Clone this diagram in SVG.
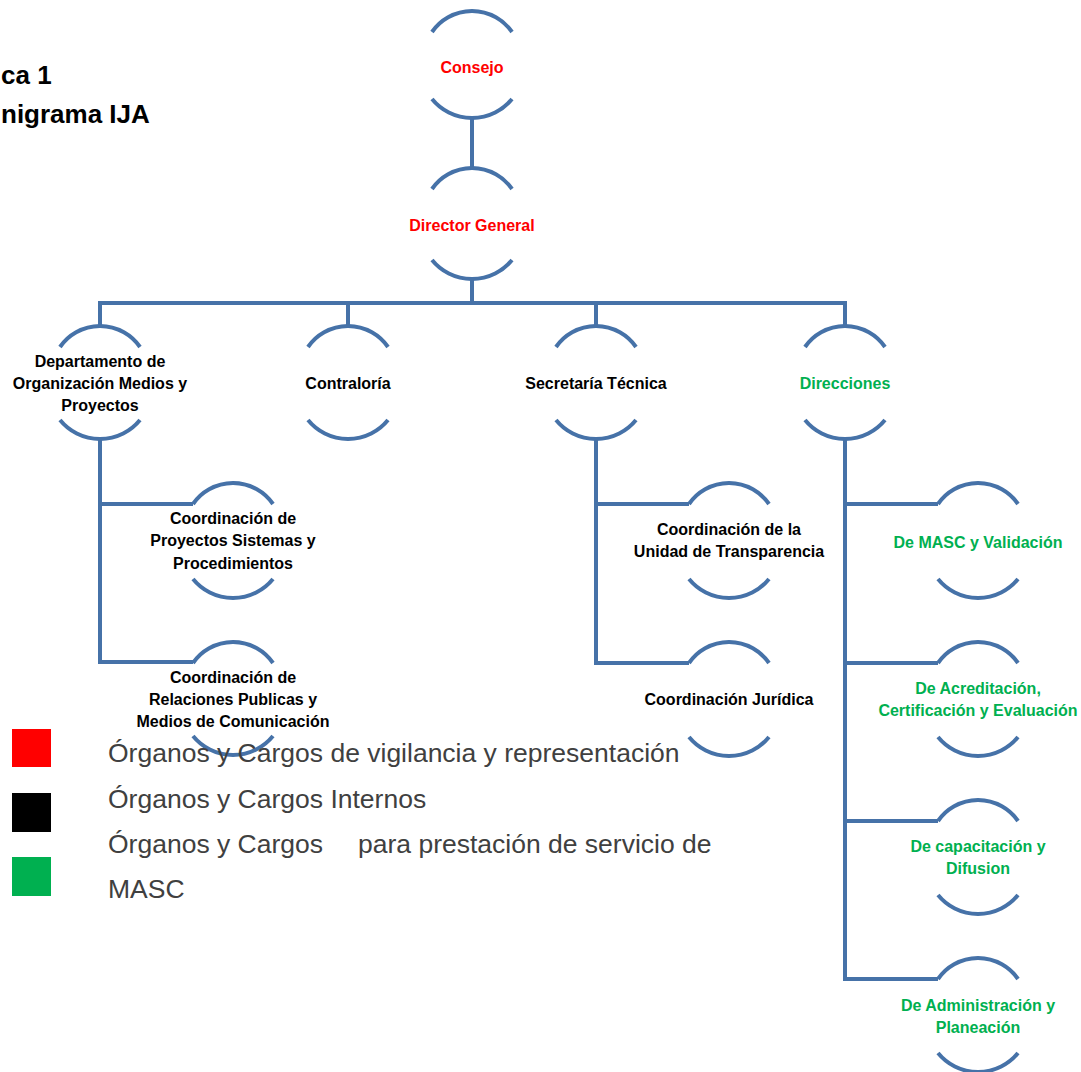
<svg xmlns="http://www.w3.org/2000/svg" width="1081" height="1072" viewBox="0 0 1081 1072">
<style>
  .arc{fill:none;stroke:#4672a8;stroke-width:4}
  .con{fill:none;stroke:#4672a8;stroke-width:4;stroke-linejoin:miter}
  .t{font-family:"Liberation Sans",Arial,sans-serif;font-weight:bold;font-size:16px;text-anchor:middle}
  .red{fill:#ff0000}
  .blk{fill:#000000}
  .grn{fill:#00b050}
  .title{font-family:"Liberation Sans",Arial,sans-serif;font-weight:bold;font-size:26px;fill:#000}
  .leg{font-family:"Liberation Sans",Arial,sans-serif;font-size:26.5px;fill:#404040}
</style>
<defs>
  <path id="cap" d="M-40,21 A48.6,48.6 0 0 1 40,21"/>
  <path id="cup" d="M-40,-19 A51.6,51.6 0 0 0 40,-19"/>
</defs>
<rect width="1081" height="1072" fill="#ffffff"/>

<g id="title">
  <text class="title" x="1" y="84">ca 1</text>
  <text class="title" x="1" y="123">nigrama IJA</text>
</g>

<g id="connectors">
  <path class="con" d="M472,118 V168"/>
  <path class="con" d="M472,279 V303"/>
  <path class="con" d="M100,326 V303 H845 V326"/>
  <path class="con" d="M348,303 V326"/>
  <path class="con" d="M596,303 V326"/>
  <path class="con" d="M100,439 V662 H193"/>
  <path class="con" d="M100,504 H193"/>
  <path class="con" d="M596,439 V663 H689"/>
  <path class="con" d="M596,504 H689"/>
  <path class="con" d="M845,439 V979 H938"/>
  <path class="con" d="M845,504 H938"/>
  <path class="con" d="M845,663 H938"/>
  <path class="con" d="M845,821 H938"/>
</g>

<g id="consejo">
  <use href="#cap" class="arc" x="472" y="11"/>
  <use href="#cup" class="arc" x="472" y="118"/>
  <text class="t red" x="472" y="73">Consejo</text>
</g>
<g id="director-general">
  <use href="#cap" class="arc" x="472" y="168"/>
  <use href="#cup" class="arc" x="472" y="279"/>
  <text class="t red" x="472" y="231">Director General</text>
</g>
<g id="departamento">
  <use href="#cap" class="arc" x="100" y="326"/>
  <use href="#cup" class="arc" x="100" y="439"/>
  <text class="t blk" x="100" y="367">Departamento de</text>
  <text class="t blk" x="100" y="389">Organización Medios y</text>
  <text class="t blk" x="100" y="411">Proyectos</text>
</g>
<g id="contraloria">
  <use href="#cap" class="arc" x="348" y="326"/>
  <use href="#cup" class="arc" x="348" y="439"/>
  <text class="t blk" x="348" y="389">Contraloría</text>
</g>
<g id="secretaria">
  <use href="#cap" class="arc" x="596" y="326"/>
  <use href="#cup" class="arc" x="596" y="439"/>
  <text class="t blk" x="596" y="389">Secretaría Técnica</text>
</g>
<g id="direcciones">
  <use href="#cap" class="arc" x="845" y="326"/>
  <use href="#cup" class="arc" x="845" y="439"/>
  <text class="t grn" x="845" y="389">Direcciones</text>
</g>
<g id="coord-proyectos">
  <use href="#cap" class="arc" x="233" y="483"/>
  <use href="#cup" class="arc" x="233" y="598"/>
  <text class="t blk" x="233" y="524">Coordinación de</text>
  <text class="t blk" x="233" y="546">Proyectos Sistemas y</text>
  <text class="t blk" x="233" y="569">Procedimientos</text>
</g>
<g id="coord-relaciones">
  <use href="#cap" class="arc" x="233" y="642"/>
  <use href="#cup" class="arc" x="233" y="755"/>
  <text class="t blk" x="233" y="683">Coordinación de</text>
  <text class="t blk" x="233" y="705">Relaciones Publicas y</text>
  <text class="t blk" x="233" y="727">Medios de Comunicación</text>
</g>
<g id="coord-transparencia">
  <use href="#cap" class="arc" x="729" y="483"/>
  <use href="#cup" class="arc" x="729" y="598"/>
  <text class="t blk" x="729" y="535">Coordinación de la</text>
  <text class="t blk" x="729" y="557">Unidad de Transparencia</text>
</g>
<g id="coord-juridica">
  <use href="#cap" class="arc" x="729" y="642"/>
  <use href="#cup" class="arc" x="729" y="756"/>
  <text class="t blk" x="729" y="705">Coordinación Jurídica</text>
</g>
<g id="de-masc">
  <use href="#cap" class="arc" x="978" y="483"/>
  <use href="#cup" class="arc" x="978" y="598"/>
  <text class="t grn" x="978" y="548">De MASC y Validación</text>
</g>
<g id="de-acreditacion">
  <use href="#cap" class="arc" x="978" y="642"/>
  <use href="#cup" class="arc" x="978" y="756"/>
  <text class="t grn" x="978" y="694">De Acreditación,</text>
  <text class="t grn" x="978" y="716">Certificación y Evaluación</text>
</g>
<g id="de-capacitacion">
  <use href="#cap" class="arc" x="978" y="800"/>
  <use href="#cup" class="arc" x="978" y="914"/>
  <text class="t grn" x="978" y="852">De capacitación y</text>
  <text class="t grn" x="978" y="874">Difusion</text>
</g>
<g id="de-administracion">
  <use href="#cap" class="arc" x="978" y="958"/>
  <use href="#cup" class="arc" x="978" y="1072"/>
  <text class="t grn" x="978" y="1011">De Administración y</text>
  <text class="t grn" x="978" y="1033">Planeación</text>
</g>

<g id="legend">
  <rect x="12" y="729" width="39" height="38" fill="#ff0000"/>
  <rect x="12" y="793" width="39" height="39" fill="#000000"/>
  <rect x="12" y="857" width="39" height="39" fill="#00b050"/>
  <text class="leg" x="108" y="762">Órganos y Cargos de vigilancia y representación</text>
  <text class="leg" x="108" y="808">Órganos y Cargos Internos</text>
  <text class="leg" x="108" y="853">Órganos y Cargos<tspan x="358">para prestación de servicio de</tspan></text>
  <text class="leg" x="108" y="898">MASC</text>
</g>
</svg>
